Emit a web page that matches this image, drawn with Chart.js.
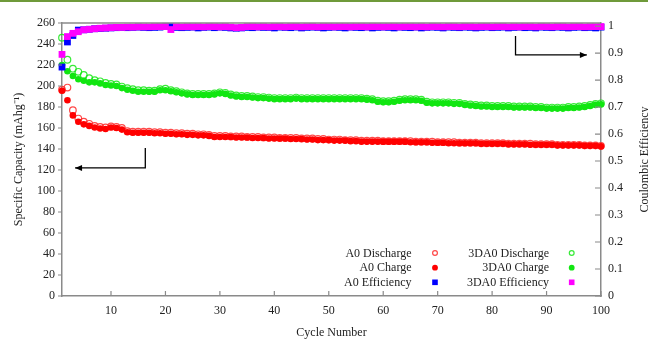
<!DOCTYPE html>
<html>
<head>
<meta charset="utf-8">
<script src="https://cdn.jsdelivr.net/npm/chart.js@4/dist/chart.umd.min.js"></script>
<style>
  html, body { margin: 0; padding: 0; background: #fff; }
  #wrap { position: relative; width: 648px; height: 339px; }
  #topbar { position: absolute; left: 0; top: 0; width: 648px; height: 2px; background: #6f9a3a; }
</style>
</head>
<body>
<div id="wrap">
  <canvas id="grafico" width="648" height="339"></canvas>
  <div id="topbar"></div>
</div>
<script>
// dados
const cycles = Array.from({ length: 100 }, (_, i) => i + 1);

const a0Discharge = [
  196.5, 198.5, 177, 169, 166, 164, 162, 161, 160.5, 161.5,
  161, 160, 157, 156.5, 156.5, 156.5, 156.5, 156, 156, 155.5,
  155.5, 155, 155, 154.5, 154.5, 154, 154, 153.5, 152.5, 152.5,
  152.5, 152, 152, 152, 151.5, 151.5, 151.5, 151, 151, 151,
  150.5, 150.5, 150.5, 150.5, 150, 150, 150, 149.5, 149.5, 149,
  149, 149, 148.5, 148.5, 148.5, 148, 148, 148, 148, 147.5,
  147.5, 147.5, 147.5, 147.5, 147.5, 147, 147, 147, 147, 146.5,
  146.5, 146.5, 146.5, 146, 146, 146, 146, 145.5, 145.5, 145.5,
  145.5, 145.5, 145, 145, 145, 145, 145, 144.5, 144.5, 144.5,
  144.5, 144, 144, 144, 144, 144, 143.5, 143.5, 143.5, 143
];
const a0Charge = [
  195.5, 186.5, 172, 166, 163.5, 162, 160.5, 159.5, 159, 160.5,
  160, 158.5, 156, 155.5, 155.5, 155.5, 155.5, 155, 155, 154.5,
  154.5, 154, 154, 153.5, 153.5, 153, 153, 152.5, 151.5, 151.5,
  151.5, 151.5, 151, 151, 151, 150.5, 150.5, 150.5, 150, 150,
  150, 150, 149.5, 149.5, 149.5, 149, 149, 148.5, 148.5, 148.5,
  148, 148, 148, 147.5, 147.5, 147, 147, 147, 147, 147,
  147, 147, 147, 147, 146.5, 146.5, 146.5, 146.5, 146, 146,
  146, 145.5, 145.5, 145.5, 145.5, 145.5, 145.5, 145, 145, 145,
  145, 145, 144.5, 144.5, 144.5, 144.5, 144, 144, 144, 144,
  144, 143.5, 143.5, 143.5, 143.5, 143.5, 143, 143, 143, 142.5
];
const a0Efficiency = [
  0.848, 0.941, 0.965, 0.985, 0.986, 0.988, 0.990, 0.991, 0.992, 0.993,
  0.994, 0.995, 0.994, 0.995, 0.996, 0.995, 0.994, 0.995, 0.996, 0.999,
  0.998, 0.995, 0.994, 0.995, 0.996, 0.993, 0.995, 0.996, 0.994, 0.996,
  0.995, 0.993, 0.992, 0.993, 0.995, 0.994, 0.996, 0.995, 0.995, 0.993,
  0.996, 0.995, 0.994, 0.996, 0.993, 0.995, 0.996, 0.995, 0.993, 0.995,
  0.996, 0.995, 0.993, 0.996, 0.995, 0.994, 0.996, 0.993, 0.995, 0.996,
  0.995, 0.993, 0.996, 0.995, 0.994, 0.996, 0.993, 0.995, 0.996, 0.995,
  0.993, 0.996, 0.995, 0.994, 0.996, 0.995, 0.993, 0.995, 0.996, 0.994,
  0.995, 0.996, 0.993, 0.995, 0.996, 0.994, 0.995, 0.993, 0.996, 0.995,
  0.994, 0.996, 0.995, 0.993, 0.995, 0.996, 0.994, 0.995, 0.993, 0.996
];
const da0Discharge = [
  246, 225, 216.5, 213.5, 210.5, 207.5, 205.5, 204.5, 203, 202,
  201.5, 199.5, 198, 197, 196, 196, 195.5, 195.5, 197, 197.5,
  196, 195, 194, 193, 192.5, 192.5, 192.5, 192.5, 193, 194,
  193.5, 192, 191, 190.5, 190.5, 190, 189.5, 189.5, 189, 188.5,
  188.5, 188.5, 188.5, 189, 188.5, 188.5, 188.5, 188.5, 188.5, 188.5,
  188.5, 188.5, 188.5, 188.5, 188.5, 188.5, 188, 187.5, 186, 185.5,
  185.5, 186, 187, 187.5, 187.5, 187.5, 187, 185, 184.5, 184.5,
  184.5, 184.5, 184, 184, 183, 182.5, 182, 181.5, 181.5, 181,
  181, 181, 181, 180.5, 180.5, 180.5, 180.5, 180, 180, 179.5,
  179.5, 179.5, 179.5, 180, 180, 180.5, 181, 182, 183, 183.5
];
const da0Charge = [
  220, 214, 209.5, 206.5, 205, 203.5, 203.5, 202.5, 201, 200.5,
  200, 198, 196.5, 195.5, 194.5, 194.5, 194.5, 194.5, 196, 196,
  195, 194, 193, 192, 191.5, 191.5, 191.5, 191.5, 192, 193,
  192.5, 191, 190, 189.5, 189.5, 189, 188.5, 188.5, 188, 187.5,
  187.5, 187.5, 187.5, 188, 187.5, 187.5, 187.5, 187.5, 187.5, 187.5,
  187.5, 187.5, 187.5, 187.5, 187.5, 187.5, 187, 186.5, 185, 184.5,
  184.5, 185, 186, 186.5, 186.5, 186.5, 186, 184, 183.5, 183.5,
  183.5, 183.5, 183, 183, 182, 181.5, 181, 180.5, 180.5, 180,
  180, 180, 180, 179.5, 179.5, 179.5, 179.5, 179, 179, 178.5,
  178.5, 178.5, 178.5, 179, 179, 179.5, 180, 181, 182, 182.5
];
const da0Efficiency = [
  0.895, 0.961, 0.973, 0.979, 0.986, 0.988, 0.990, 0.992, 0.993, 0.994,
  0.995, 0.995, 0.996, 0.996, 0.997, 0.997, 0.997, 0.998, 0.998, 0.998,
  0.987, 0.998, 0.997, 0.998, 0.997, 0.998, 0.997, 0.998, 0.998, 0.997,
  0.998, 0.996, 0.994, 0.995, 0.998, 0.998, 0.997, 0.998, 0.997, 0.998,
  0.998, 0.997, 0.998, 0.998, 0.997, 0.998, 0.998, 0.997, 0.998, 0.998,
  0.997, 0.998, 0.998, 0.997, 0.998, 0.998, 0.997, 0.998, 0.998, 0.997,
  0.998, 0.998, 0.997, 0.998, 0.998, 0.997, 0.998, 0.997, 0.998, 0.998,
  0.997, 0.998, 0.998, 0.997, 0.998, 0.998, 0.997, 0.998, 0.998, 0.997,
  0.998, 0.998, 0.997, 0.998, 0.997, 0.998, 0.998, 0.997, 0.998, 0.998,
  0.997, 0.998, 0.998, 0.997, 0.998, 0.998, 0.997, 0.998, 0.998, 0.998
];

// eixos
const xTicks = [10, 20, 30, 40, 50, 60, 70, 80, 90, 100];
const capTicks = [0, 20, 40, 60, 80, 100, 120, 140, 160, 180, 200, 220, 240, 260];
const effTicks = [0, 0.1, 0.2, 0.3, 0.4, 0.5, 0.6, 0.7, 0.8, 0.9, 1];

// setas (em coordenadas dos dados)
const arrowLeft = { x: 16.3, yTop: 141, y: 122, xTip: 3.4 };
const arrowRight = { x: 84.3, yTop: 0.963, y: 0.893, xTip: 97.4 };

const fonte = 'Liberation Serif';
const corTexto = '#222';
const corEixo = '#8a8a8a';

function pares(ys) {
  return cycles.map((c, i) => ({ x: c, y: ys[i] }));
}

const series = [
  { label: 'A0 Discharge', data: a0Discharge, axis: 'y', style: 'circle', open: true, color: 'rgba(255,40,40,0.85)', order: 5 },
  { label: 'A0 Charge', data: a0Charge, axis: 'y', style: 'circle', open: false, color: '#ff0000', order: 4 },
  { label: 'A0 Efficiency', data: a0Efficiency, axis: 'y1', style: 'rect', open: false, color: '#0000ff', order: 1 },
  { label: '3DA0 Discharge', data: da0Discharge, axis: 'y', style: 'circle', open: true, color: 'rgba(20,230,20,0.85)', order: 3 },
  { label: '3DA0 Charge', data: da0Charge, axis: 'y', style: 'circle', open: false, color: '#11e611', order: 2 },
  { label: '3DA0 Efficiency', data: da0Efficiency, axis: 'y1', style: 'rect', open: false, color: '#ff00ff', order: 0 }
];

function seta(ctx, x0, y0, x1, y1, x2, y2) {
  ctx.beginPath();
  ctx.moveTo(x0, y0);
  ctx.lineTo(x1, y1);
  ctx.lineTo(x2, y2);
  ctx.stroke();
  const dir = Math.sign(x2 - x1);
  ctx.beginPath();
  ctx.moveTo(x2, y2);
  ctx.lineTo(x2 - dir * 7, y2 - 3);
  ctx.lineTo(x2 - dir * 7, y2 + 3);
  ctx.closePath();
  ctx.fill();
}

const extras = {
  id: 'extras',
  afterDraw(chart) {
    const { ctx, chartArea: a, scales } = chart;
    const x = scales.x, y = scales.y, y1 = scales.y1;
    ctx.save();

    // moldura superior e marcas dos eixos
    ctx.strokeStyle = corEixo;
    ctx.lineWidth = 1.5;
    ctx.beginPath();
    ctx.moveTo(a.left, a.top);
    ctx.lineTo(a.right, a.top);
    ctx.stroke();
    ctx.lineWidth = 1.2;
    ctx.beginPath();
    capTicks.forEach(v => { const p = y.getPixelForValue(v); ctx.moveTo(a.left - 4, p); ctx.lineTo(a.left, p); });
    xTicks.forEach(v => { const p = x.getPixelForValue(v); ctx.moveTo(p, a.bottom); ctx.lineTo(p, a.bottom - 5); });
    effTicks.forEach(v => { const p = y1.getPixelForValue(v); ctx.moveTo(a.right, p); ctx.lineTo(a.right - 6, p); });
    ctx.stroke();

    // setas
    ctx.strokeStyle = '#000';
    ctx.fillStyle = '#000';
    ctx.lineWidth = 1.3;
    seta(ctx,
      x.getPixelForValue(arrowLeft.x), y.getPixelForValue(arrowLeft.yTop),
      x.getPixelForValue(arrowLeft.x), y.getPixelForValue(arrowLeft.y),
      x.getPixelForValue(arrowLeft.xTip), y.getPixelForValue(arrowLeft.y));
    seta(ctx,
      x.getPixelForValue(arrowRight.x), y1.getPixelForValue(arrowRight.yTop),
      x.getPixelForValue(arrowRight.x), y1.getPixelForValue(arrowRight.y),
      x.getPixelForValue(arrowRight.xTip), y1.getPixelForValue(arrowRight.y));

    // legenda
    ctx.font = '12px "' + fonte + '"';
    ctx.textAlign = 'right';
    ctx.textBaseline = 'middle';
    const colunas = [{ tx: 411.5, mx: 435 }, { tx: 549, mx: 571.7 }];
    const linhas = [253, 267.7, 282.3];
    series.forEach((s, i) => {
      const col = colunas[Math.floor(i / 3)];
      const ly = linhas[i % 3];
      ctx.fillStyle = corTexto;
      ctx.fillText(s.label, col.tx, ly + 0.5);
      ctx.fillStyle = s.color;
      ctx.strokeStyle = s.color;
      ctx.lineWidth = 1.2;
      if (s.style === 'rect') {
        ctx.fillRect(col.mx - 2.8, ly - 2.8, 5.6, 5.6);
      } else {
        ctx.beginPath();
        ctx.arc(col.mx, ly, s.open ? 2.4 : 2.9, 0, Math.PI * 2);
        if (s.open) ctx.stroke(); else ctx.fill();
      }
    });

    // título do eixo direito
    ctx.translate(645, (a.top + a.bottom) / 2);
    ctx.rotate(-Math.PI / 2);
    ctx.textAlign = 'center';
    ctx.fillStyle = corTexto;
    ctx.fillText('Coulombic Efficiency', 0, 0);
    ctx.restore();
  }
};

const ctx = document.getElementById('grafico').getContext('2d');

const grafico = new Chart(ctx, {
  type: 'scatter',
  data: {
    datasets: series.map(s => ({
      label: s.label,
      data: pares(s.data),
      yAxisID: s.axis,
      order: s.order,
      showLine: false,
      clip: false,
      pointStyle: s.style,
      pointRadius: s.style === 'rect' ? 4.8 : 3.3,
      pointBorderWidth: s.open ? 1.2 : 0,
      pointBackgroundColor: s.open ? 'rgba(0,0,0,0)' : s.color,
      pointBorderColor: s.color
    }))
  },
  options: {
    responsive: false,
    animation: false,
    devicePixelRatio: 1,
    layout: { padding: { top: 23, left: 0, right: 0, bottom: 0 } },
    plugins: {
      legend: { display: false },
      tooltip: { enabled: false }
    },
    scales: {
      x: {
        type: 'linear',
        min: 1,
        max: 100,
        afterBuildTicks: s => { s.ticks = xTicks.map(v => ({ value: v })); },
        afterFit: s => { s.height = 43; },
        grid: { display: false, drawTicks: false },
        border: { color: corEixo, width: 1.5 },
        ticks: { padding: 8, color: corTexto, font: { family: fonte, size: 12 } },
        title: { display: true, text: 'Cycle Number', color: corTexto, padding: { top: 0, bottom: -1 }, font: { family: fonte, size: 12 } }
      },
      y: {
        position: 'left',
        min: 0,
        max: 260,
        afterBuildTicks: s => { s.ticks = capTicks.map(v => ({ value: v })); },
        afterFit: s => { s.width = 62; },
        grid: { display: false, drawTicks: false },
        border: { color: corEixo, width: 1.5 },
        ticks: { padding: 7, color: corTexto, font: { family: fonte, size: 12 } },
        title: { display: true, text: 'Specific Capacity (mAhg⁻¹)', color: corTexto, padding: { top: 12, bottom: 0 }, font: { family: fonte, size: 12 } }
      },
      y1: {
        position: 'right',
        min: 0,
        max: 260 / 257.1,
        afterBuildTicks: s => { s.ticks = effTicks.map(v => ({ value: v })); },
        afterFit: s => { s.width = 47; },
        grid: { display: false, drawTicks: false },
        border: { color: corEixo, width: 1.5 },
        ticks: { padding: 7, color: corTexto, font: { family: fonte, size: 12 }, callback: v => String(Math.round(v * 10) / 10) }
      }
    }
  },
  plugins: [extras]
});
</script>
</body>
</html>
